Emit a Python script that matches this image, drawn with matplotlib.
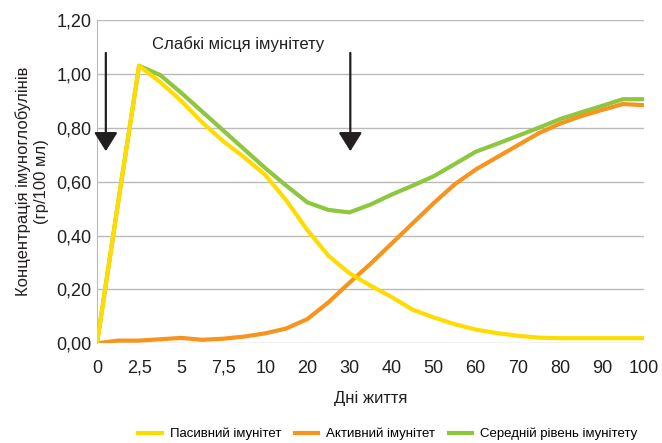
import numpy as np
import matplotlib.pyplot as plt

plt.rcParams['font.family'] = ['Liberation Sans', 'DejaVu Sans']

# categories on the x axis (evenly spaced, not proportional to days)
day_labels = ['0', '2,5', '5', '7,5', '10', '20', '30', '40', '50', '60', '70', '80', '90', '100']
# readings are taken every half category step
steps = np.arange(0, 13.5, 0.5)

passive = [0.00, 0.52, 1.03, 0.97, 0.90, 0.82, 0.75, 0.69, 0.625, 0.53, 0.42, 0.325, 0.26,
           0.214, 0.172, 0.125, 0.096, 0.071, 0.051, 0.038, 0.028, 0.021, 0.019, 0.019, 0.019,
           0.019, 0.019]
active = [0.00, 0.01, 0.01, 0.015, 0.02, 0.013, 0.017, 0.025, 0.037, 0.055, 0.09, 0.152,
          0.225, 0.295, 0.37, 0.445, 0.52, 0.59, 0.645, 0.69, 0.735, 0.78, 0.815, 0.843,
          0.866, 0.888, 0.884]
average = [0.00, 0.52, 1.03, 0.996, 0.93, 0.86, 0.79, 0.72, 0.65, 0.585, 0.523, 0.495, 0.486,
           0.515, 0.552, 0.585, 0.62, 0.665, 0.711, 0.74, 0.77, 0.80, 0.832, 0.857, 0.881,
           0.906, 0.906]

series_names = ['Пасивний імунітет', 'Активний імунітет', 'Середній рівень імунітету']
colors = ['#FFDC00', '#F7941D', '#8DC63F']
ink = '#231F20'

fig = plt.figure(figsize=(6.62, 4.43), dpi=100)
ax = fig.add_axes([97 / 662, 1 - 343.3 / 443, 547 / 662, 323.3 / 443])

l3, = ax.plot(steps, average, color=colors[2], lw=3.0, zorder=3, solid_joinstyle='round')
l2, = ax.plot(steps, active, color=colors[1], lw=3.0, zorder=4, solid_joinstyle='round')
l1, = ax.plot(steps, passive, color=colors[0], lw=3.0, zorder=5, solid_joinstyle='round')

ax.set_xlim(0, 13)
ax.set_ylim(0, 1.2)
yt = np.arange(0, 1.21, 0.2)
ax.set_yticks(yt)
ax.set_yticklabels([f'{v:.2f}'.replace('.', ',') for v in yt])
ax.set_xticks(range(len(day_labels)))
ax.set_xticklabels(day_labels)
ax.tick_params(length=0, labelsize=13, colors=ink)
ax.tick_params(axis='y', pad=4)
ax.tick_params(axis='x', pad=12)
ax.grid(axis='y', color='#BBBBBB', lw=1)
ax.set_axisbelow(True)
for s in ['top', 'right', 'bottom']:
    ax.spines[s].set_visible(False)
ax.spines['left'].set_color('#BBBBBB')

ax.set_xlabel('Дні життя', fontsize=12, color=ink, labelpad=10)
ax.set_ylabel('Концентрація імуноглобулінів\n(гр/100 мл)', fontsize=12, color=ink,
              labelpad=5, linespacing=1.3)

# weak spots of immunity
ax.text(1.31, 1.11, 'Слабкі місця імунітету', fontsize=12, color=ink, va='center')
for xa in [0.21, 6.02]:
    ax.annotate('', xy=(xa, 0.713), xytext=(xa, 1.078),
                arrowprops=dict(arrowstyle='-|>,head_length=1.15,head_width=0.72',
                                color=ink, lw=1.6, shrinkA=0, shrinkB=0))

fig.legend([l1, l2, l3], series_names, loc='center', ncol=3, frameon=False,
           fontsize=9.5, bbox_to_anchor=(0.586, 0.02), borderaxespad=0, handlelength=1.8,
           columnspacing=1.0, handletextpad=0.6)

fig.savefig('out.png', dpi=100)
